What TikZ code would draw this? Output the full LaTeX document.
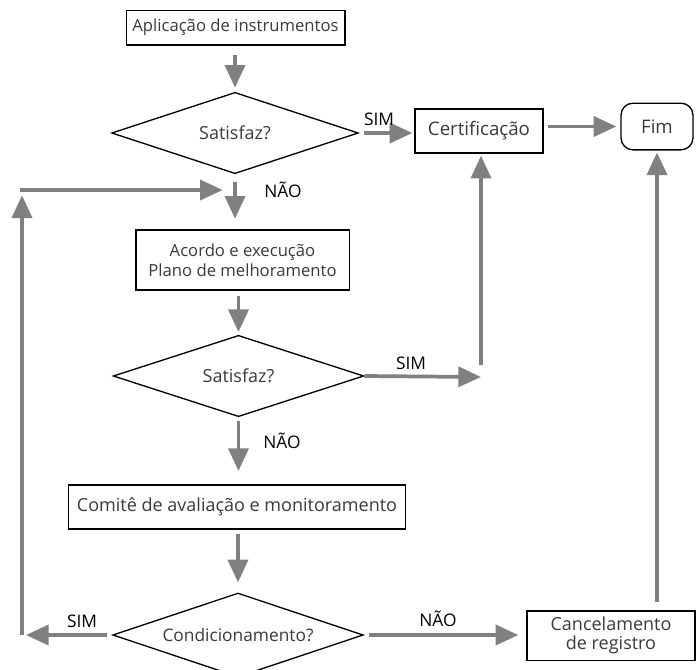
\documentclass[tikz,border=0pt]{standalone}
\usepackage{fontspec}
\setmainfont{Open Sans}
\usepackage{tikz}
\usepackage{xcolor}
\usetikzlibrary{shapes.geometric, arrows.meta, positioning, calc}
\definecolor{FlowGray}{HTML}{808080}
\definecolor{TextGray}{HTML}{3A3A3A}
\tikzset{
    % Box styles with sharp corners
    box/.style={
        rectangle,
        draw=black,
        fill=white,
        line width=1pt,
        align=center,
        text=TextGray,
        font=\fontsize{12.5}{15}\selectfont
    },
    terminal/.style={
        box,
        rounded corners=9pt
    },
    decision/.style={
        diamond,
        aspect=3,
        draw=black,
        line width=1pt,
        inner sep=0pt,
        align=center,
        text=TextGray,
        font=\fontsize{13.5}{15}\selectfont
    },
    answer/.style={
        font=\fontsize{13}{15}\selectfont,
        text=black
    },
    flow arrow/.style={
        -{Triangle[length=17pt,width=15pt]},
        line width=2.8pt,
        FlowGray
    }
}

\begin{document}
\begin{tikzpicture}[x=0.75pt, y=-0.75pt]
        \useasboundingbox (0,0) rectangle (697,669);

        % Main column
        \node[box, minimum width=164pt, minimum height=26pt] (app) at (235.5, 27.5) {Aplicação de instrumentos};
        \node[decision, minimum width=185pt, minimum height=61pt] (sat1) at (235, 133) {Satisfaz?};
        \node[box, minimum width=160pt, minimum height=45pt] (plan) at (242.5, 260) {Acordo e execução\\Plano de melhoramento};
        \node[decision, minimum width=188pt, minimum height=61pt] (sat2) at (238.5, 376) {Satisfaz?};
        \node[box, minimum width=253pt, minimum height=33pt, font=\fontsize{13.5}{15}\selectfont] (comite) at (237, 507) {Comitê de avaliação e monitoramento};
        \node[decision, minimum width=188pt, minimum height=63pt, font=\fontsize{13}{15}\selectfont] (cond) at (238, 635) {Condicionamento?};

        % Right side
        \node[box, minimum width=96pt, minimum height=33pt, font=\fontsize{14}{15}\selectfont] (cert) at (479, 131) {Certificação};
        \node[terminal, minimum width=54pt, minimum height=35pt, font=\fontsize{14}{15}\selectfont] (fim) at (657, 126.5) {Fim};
        \node[box, minimum width=126pt, minimum height=37pt, font=\fontsize{13.5}{14}\selectfont] (cancel) at (611, 635.5) {Cancelamento\\de registro};

        % Free ends
        \coordinate (loop top) at (22, 190);
        \coordinate (loop bottom) at (22, 635);
        \coordinate (sim end) at (26, 635);
        \coordinate (merge) at (236, 190);
        \coordinate (cert up) at (481, 365);
        \coordinate (sim two end) at (481, 377);

        % Arrows
        \draw[flow arrow, shorten <=7pt, shorten >=3pt] (app.south -| sat1.north) -- (sat1.north);
        \draw[flow arrow, shorten <=4pt, shorten >=1.5pt] (sat1.east) -- (sat1.east -| cert.west);
        \draw[flow arrow, shorten <=3pt, shorten >=3pt] (cert.east |- fim.west) -- (fim.west);
        \draw[flow arrow, shorten <=6pt, shorten >=8pt] (sat1.south) -- (sat1.south |- plan.north);
        \draw[flow arrow, shorten <=4pt, shorten >=2pt] (plan.south -| sat2.north) -- (sat2.north);
        \draw[flow arrow] (sat2.east) -- (sim two end);
        \draw[flow arrow, shorten >=1.5pt] (cert up) -- (cert up |- cert.south);
        \draw[flow arrow, shorten <=3pt, shorten >=10pt] (sat2.south) -- (sat2.south |- comite.north);
        \draw[flow arrow, shorten <=3pt, shorten >=7.5pt] (comite.south -| cond.north) -- (cond.north);
        \draw[flow arrow, shorten <=4pt, shorten >=6pt] (cond.east) -- (cond.east -| cancel.west);
        \draw[flow arrow, shorten <=6pt, shorten >=1.5pt] (cancel.north -| fim.south) -- (fim.south);

        % Loop back to the improvement plan
        \draw[flow arrow, shorten <=4pt] (cond.west) -- (sim end);
        \draw[flow arrow, shorten >=4pt] (loop bottom) -- (loop top);
        \draw[flow arrow, shorten >=10pt] ([xshift=-1.4pt]loop top) -- (merge);

        % Answers
        \node[answer] (sim1) at (379, 119) {SIM};
        \node[answer] (nao1) at (283, 190) {NÃO};
        \node[answer] (sim2) at (411, 363) {SIM};
        \node[answer] (nao2) at (282, 441) {NÃO};
        \node[answer] (sim3) at (82, 621) {SIM};
        \node[answer] (nao3) at (438, 619) {NÃO};
    \end{tikzpicture}
\end{document}
